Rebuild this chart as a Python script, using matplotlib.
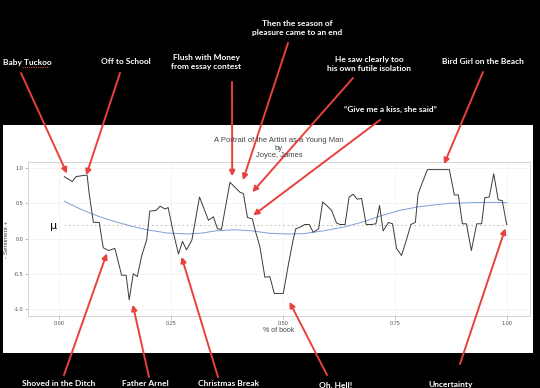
import matplotlib
matplotlib.use("Agg")
import matplotlib.pyplot as plt
from matplotlib.patches import Rectangle
from matplotlib.lines import Line2D

# sentiment trajectory (x = share of book)
book_pos = [0.011, 0.029, 0.037, 0.057, 0.062, 0.067, 0.076, 0.089, 0.098, 0.110,
            0.124, 0.139, 0.149, 0.156, 0.165, 0.174, 0.184, 0.195, 0.202, 0.216,
            0.225, 0.236, 0.243, 0.254, 0.266, 0.275, 0.284, 0.296, 0.313, 0.333,
            0.344, 0.353, 0.362, 0.381, 0.392, 0.403, 0.411, 0.420, 0.431, 0.438,
            0.448, 0.459, 0.470, 0.480, 0.500, 0.512, 0.522, 0.528, 0.537, 0.548,
            0.558, 0.567, 0.579, 0.588, 0.597, 0.608, 0.619, 0.627, 0.638, 0.647,
            0.656, 0.665, 0.675, 0.685, 0.697, 0.707, 0.715, 0.723, 0.735, 0.744,
            0.753, 0.764, 0.775, 0.785, 0.795, 0.801, 0.809, 0.822, 0.871, 0.882,
            0.891, 0.900, 0.909, 0.920, 0.932, 0.943, 0.950, 0.960, 0.970, 0.980,
            0.989, 0.999]
sentiment = [0.88, 0.81, 0.88, 0.90, 0.90, 0.62, 0.23, 0.23, -0.13, -0.17,
             -0.14, -0.52, -0.52, -0.87, -0.50, -0.54, -0.24, -0.02, 0.39, 0.40,
             0.46, 0.42, 0.44, 0.10, -0.22, -0.04, -0.16, -0.02, 0.59, 0.26,
             0.31, 0.14, 0.13, 0.80, 0.73, 0.66, 0.64, 0.30, 0.28, 0.10,
             -0.12, -0.55, -0.54, -0.78, -0.78, -0.35, -0.02, 0.14, 0.16, 0.20,
             0.20, 0.09, 0.14, 0.52, 0.47, 0.40, 0.22, 0.20, 0.20, 0.59,
             0.63, 0.56, 0.57, 0.20, 0.20, 0.21, 0.47, 0.11, 0.23, 0.21,
             -0.14, -0.24, -0.02, 0.20, 0.23, 0.63, 0.77, 0.98, 0.98, 0.62,
             0.62, 0.21, 0.21, -0.17, 0.21, 0.21, 0.58, 0.59, 0.92, 0.55,
             0.54, 0.20]

# smoothed trend
smooth_pos = [0.011, 0.05, 0.09, 0.13, 0.165, 0.20, 0.24, 0.285, 0.32, 0.35,
              0.39, 0.43, 0.47, 0.51, 0.545, 0.59, 0.64, 0.68, 0.716, 0.76,
              0.80, 0.84, 0.87, 0.92, 0.96, 1.0]
smooth_val = [0.53, 0.41, 0.31, 0.23, 0.17, 0.12, 0.08, 0.065, 0.08, 0.11,
              0.125, 0.11, 0.075, 0.065, 0.07, 0.11, 0.17, 0.24, 0.32, 0.40,
              0.45, 0.48, 0.50, 0.51, 0.515, 0.51]

mu = 0.20
x_ticks = [0.0, 0.25, 0.5, 0.75, 1.0]
y_ticks = [-1.0, -0.5, 0.0, 0.5, 1.0]

# story beats: label, point on the curve the arrow hits
beat_labels = ["Baby Tuckoo", "Off to School", "Flush with Money\nfrom essay contest",
               "Then the season of\npleasure came to an end",
               "He saw clearly too\nhis own futile isolation",
               "\u201cGive me a kiss, she said\u201d", "Bird Girl on the Beach",
               "Shoved in the Ditch", "Father Arnel", "Christmas Break",
               "Oh, Hell!", "Uncertainty"]
beat_x = [0.017, 0.060, 0.386, 0.410, 0.431, 0.433, 0.859,
          0.106, 0.164, 0.273, 0.514, 0.996]
beat_y = [0.925, 0.90, 0.885, 0.83, 0.66, 0.33, 1.057,
          -0.21, -0.94, -0.26, -0.90, 0.145]

# layout of the labels / arrow tails, in pixels from the top-left corner
label_px = [(27, 62), (126, 62), (206, 62), (297, 28), (369, 64), (390, 109),
            (483, 62), (59, 384), (145, 384), (229, 384), (336, 385), (451, 384)]
tail_px = [(21, 73), (120, 73), (232, 82), (288, 43), (353, 78), (380, 120),
           (483, 72), (64, 375), (149, 377), (218, 377), (327, 375), (460, 364)]
# spell-check squiggles under "Tuckoo" and "Arnel"
squiggle_px = [((22, 49), 67), ((148, 169), 387.5)]

W, H = 540, 388
RED = "#e8413d"


def fig_frac(p):
    return (p[0] / W, 1 - p[1] / H)


fig = plt.figure(figsize=(W / 100, H / 100), dpi=100, facecolor="black")
fig.add_artist(Rectangle((3 / W, 1 - 353 / H), 530 / W, 228 / H,
                         transform=fig.transFigure, facecolor="white",
                         edgecolor="none", zorder=-10))

ax = fig.add_axes([28 / W, 1 - 316 / H, 502 / W, 154 / H])
ax.set_facecolor("white")
ax.set_xlim(-0.07, 1.051)
ax.set_ylim(-1.1, 1.088)

ax.plot(book_pos, sentiment, color="#3a3a3a", lw=0.7, zorder=3)
ax.plot(smooth_pos, smooth_val, color="#7f9fd8", lw=0.7, zorder=2)
ax.plot([book_pos[0], book_pos[-1]], [mu, mu], color="#b9b9a0", lw=0.7,
        ls=(0, (1.5, 3)), zorder=1)
ax.text(-0.014, mu - 0.02, "\u03bc", ha="center", va="center", fontsize=8,
        color="black", family=["DejaVu Sans"])

ax.set_xticks(x_ticks)
ax.set_xticklabels(["0.00", "0.25", "0.50", "0.75", "1.00"])
ax.set_yticks(y_ticks)
ax.set_yticklabels(["-1.0", "-0.5", "0.0", "0.5", "1.0"])
ax.grid(True, color="#f0f0f0", lw=0.5)
ax.set_axisbelow(True)
for s in ax.spines.values():
    s.set_color("#d4d4d4")
    s.set_linewidth(0.7)
ax.tick_params(length=2, width=0.5, color="#999999", labelsize=4,
               labelcolor="#555555", pad=1.5)
for lab in ax.get_xticklabels() + ax.get_yticklabels():
    lab.set_family("Liberation Sans")
ax.set_xlabel("% of book", fontsize=5, color="#444444", labelpad=1,
              family="Liberation Sans")
ax.set_ylabel("- Sentiment +", fontsize=4.5, color="#444444", labelpad=3,
              family="Liberation Sans")
fig.text(279 / W, 1 - 148 / H, "A Portrait of the Artist as a Young Man\nby\nJoyce, James",
         ha="center", va="center", fontsize=5.5, color="#444444",
         linespacing=1.15, family="Liberation Sans")

for lab, hx, hy, lp, tp in zip(beat_labels, beat_x, beat_y, label_px, tail_px):
    fig.text(*fig_frac(lp), lab, ha="center", va="center", color="white",
             fontsize=6, fontweight="bold", linespacing=1.2,
             family=["Lato", "DejaVu Sans"])
    ax.annotate("", xy=(hx, hy), xycoords="data",
                xytext=fig_frac(tp), textcoords="figure fraction",
                annotation_clip=False,
                arrowprops=dict(arrowstyle="-|>", color=RED, lw=1.4,
                                mutation_scale=8, shrinkA=0, shrinkB=0))

for (x0, x1), y in squiggle_px:
    fig.add_artist(Line2D([x0 / W, x1 / W], [1 - y / H, 1 - y / H],
                          transform=fig.transFigure, color="#d83a3a",
                          lw=0.8, ls=(0, (1, 1))))

fig.savefig("out.png", dpi=100, facecolor="black")
